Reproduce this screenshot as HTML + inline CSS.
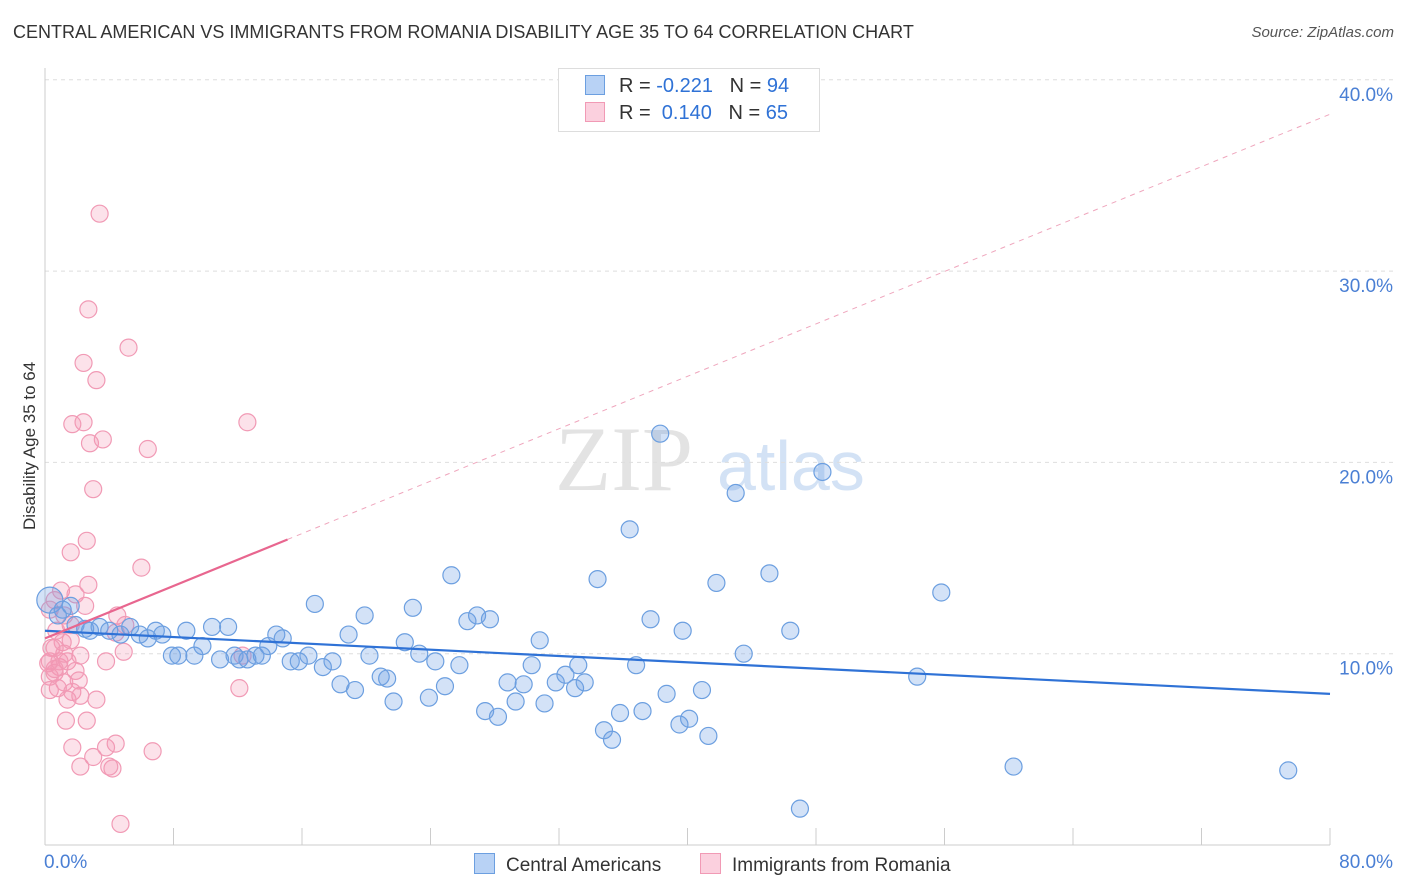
<!DOCTYPE html>
<html><head><meta charset="utf-8">
<style>
body{margin:0;background:#fff;font-family:"Liberation Sans",sans-serif;}
#wrap{position:relative;width:1406px;height:892px;overflow:hidden;}
.t{position:absolute;white-space:nowrap;}
</style></head>
<body>
<div id="wrap">
<div class="t" style="left:13px;top:22px;font-size:18px;color:#333;">CENTRAL AMERICAN VS IMMIGRANTS FROM ROMANIA DISABILITY AGE 35 TO 64 CORRELATION CHART</div>
<div class="t" style="right:12px;top:24px;font-size:15px;color:#555;font-style:italic;">Source: ZipAtlas.com</div>
<svg id="svg" width="1406" height="892" style="position:absolute;left:0;top:0"></svg>
</div>
<script>
const blueX=[0.3,1.1,1.6,0.8,1.9,2.5,2.8,3.4,4.0,4.7,5.3,5.9,6.4,6.9,7.3,7.9,8.3,8.8,9.3,9.8,10.4,10.9,11.4,11.8,12.1,12.6,13.1,13.5,13.9,14.4,14.8,15.3,15.8,16.4,16.8,17.3,17.9,18.4,18.9,19.3,19.9,20.2,20.9,21.3,21.7,22.4,22.9,23.3,23.9,24.3,24.9,25.3,25.8,26.3,26.9,27.4,27.7,28.2,28.8,29.3,29.8,30.3,30.8,31.1,31.8,32.4,33.0,33.2,33.6,34.4,34.8,35.3,35.8,36.4,36.8,37.2,37.7,38.3,38.7,39.5,39.7,40.1,40.9,41.3,41.8,43.0,43.5,45.1,46.4,47.0,48.4,54.3,55.8,60.3,77.4];
const blueY=[12.8,12.3,12.5,12.0,11.5,11.3,11.2,11.4,11.2,11.0,11.4,11.0,10.8,11.2,11.0,9.9,9.9,11.2,9.9,10.4,11.4,9.7,11.4,9.9,9.7,9.7,9.9,9.9,10.4,11.0,10.8,9.6,9.6,9.9,12.6,9.3,9.6,8.4,11.0,8.1,12.0,9.9,8.8,8.7,7.5,10.6,12.4,10.0,7.7,9.6,8.3,14.1,9.4,11.7,12.0,7.0,11.8,6.7,8.5,7.5,8.4,9.4,10.7,7.4,8.5,8.9,8.2,9.4,8.5,13.9,6.0,5.5,6.9,16.5,9.4,7.0,11.8,21.5,7.9,6.3,11.2,6.6,8.1,5.7,13.7,18.4,10.0,14.2,11.2,1.9,19.5,8.8,13.2,4.1,3.9];
const pinkX=[3.4,2.7,5.2,2.4,3.2,2.4,1.7,2.8,3.6,6.4,12.6,3.0,2.6,1.6,6.0,1.0,2.7,1.9,0.6,0.3,1.2,4.5,5.0,4.4,1.6,1.1,0.6,2.2,0.3,0.9,1.4,1.9,0.6,0.3,1.2,2.1,0.8,1.7,2.2,3.2,1.4,12.1,4.9,1.3,2.6,1.7,4.4,3.8,6.7,3.0,2.2,4.2,4.0,4.7,12.3,0.9,0.4,0.6,1.2,1.6,0.7,3.8,0.2,0.3,2.5];
const pinkY=[33.0,28.0,26.0,25.2,24.3,22.1,22.0,21.0,21.2,20.7,22.1,18.6,15.9,15.3,14.5,13.3,13.6,13.1,12.8,12.3,12.0,12.0,11.5,11.1,11.5,10.6,10.3,9.9,9.6,9.3,9.6,9.1,9.0,8.8,8.5,8.6,8.2,8.0,7.8,7.6,7.6,8.2,10.1,6.5,6.5,5.1,5.3,5.1,4.9,4.6,4.1,4.0,4.1,1.1,9.9,9.6,10.3,9.2,10.0,10.7,11.2,9.6,9.5,8.1,12.5];
const yTicks=[10,20,30,40];
const yTickLabels=["10.0%","20.0%","30.0%","40.0%"];
const xTicks=[0,8,16,24,32,40,48,56,64,72,80];
const blueTrend=[11.2,7.9], pinkTrend=[10.8,38.2], pinkSolidEnd=15.1;

const X0=45,X1=1330,Y0=845,PY=19.13;
const sx=v=>X0+(v/80)*(X1-X0), sy=v=>Y0-v*PY;
const svg=document.getElementById('svg');
const NS='http://www.w3.org/2000/svg';
function mk(tag,attrs,name){const e=document.createElementNS(NS,tag);for(const k in attrs)e.setAttribute(k,attrs[k]);


svg.appendChild(e);return e;}
// watermark
let w1=mk('text',{x:555,y:490,'font-size':92,'font-family':'Liberation Serif, serif',fill:'#e3e3e3'},'watermark-zip');w1.textContent='ZIP';
let w2=mk('text',{x:717,y:490,'font-size':70,'font-family':'Liberation Sans, sans-serif',fill:'#d3e2f5'},'watermark-atlas');w2.textContent='atlas';
yTicks.forEach((v,i)=>{
 mk('line',{x1:X0,x2:1393,y1:sy(v),y2:sy(v),stroke:'#dedede','stroke-dasharray':'4,4'},'gridline');
 const t=mk('text',{x:1393,y:sy(v)+21,'text-anchor':'end','font-size':19,fill:'#4a7fd4','font-family':'Liberation Sans, sans-serif'},'y-tick-label');t.textContent=yTickLabels[i];
});
mk('line',{x1:X0,x2:X0,y1:68,y2:Y0,stroke:'#ccc'},'y-axis');
mk('line',{x1:X0,x2:X1,y1:Y0,y2:Y0,stroke:'#ccc'},'x-axis');
xTicks.forEach(v=>mk('line',{x1:sx(v),x2:sx(v),y1:Y0,y2:Y0-17,stroke:'#ccc'},'x-tick'));
function dots(xs,ys,fill,stroke,name){xs.forEach((x,i)=>mk('circle',{cx:sx(x),cy:sy(ys[i]),r:(name==='blue-point'&&i===0)?13:8.5,fill:fill,stroke:stroke,'stroke-width':1.2},name));}
dots(pinkX,pinkY,'rgba(244,150,180,0.28)','#f19ab5','pink-point');
dots(blueX,blueY,'rgba(110,160,230,0.3)','#6c9fe0','blue-point');
mk('line',{x1:sx(0),y1:sy(blueTrend[0]),x2:sx(80),y2:sy(blueTrend[1]),stroke:'#2f72d6','stroke-width':2.2},'blue-trend-line');
const pk=v=>pinkTrend[0]+(pinkTrend[1]-pinkTrend[0])*v/80;
mk('line',{x1:sx(0),y1:sy(pk(0)),x2:sx(pinkSolidEnd),y2:sy(pk(pinkSolidEnd)),stroke:'#e8668f','stroke-width':2.2},'pink-trend-line');
mk('line',{x1:sx(pinkSolidEnd),y1:sy(pk(pinkSolidEnd)),x2:sx(80),y2:sy(pk(80)),stroke:'#efa6bd','stroke-width':1,'stroke-dasharray':'5,5'},'pink-trend-extension');
</script>
<div class="t" style="left:-45px;top:445px;font-size:17px;color:#333;transform:rotate(-90deg);width:150px;text-align:center;">Disability Age 35 to 64</div>
<div class="t" style="left:44px;top:852px;font-size:19px;color:#4a7fd4;">0.0%</div>
<div class="t" style="right:13px;top:852px;font-size:19px;color:#4a7fd4;">80.0%</div>
<div style="position:absolute;left:558px;top:68px;width:260px;height:62px;border:1px solid #ddd;background:#fff;font-size:20px;color:#333;">
 <div class="t" style="left:26px;top:6px;"><span style="display:inline-block;width:18px;height:18px;background:#b8d2f5;border:1px solid #6c9fe0;vertical-align:-3px;margin-right:14px"></span>R = <span style="color:#2f72d6">-0.221</span>&nbsp;&nbsp;&nbsp;N = <span style="color:#2f72d6">94</span></div>
 <div class="t" style="left:26px;top:33px;"><span style="display:inline-block;width:18px;height:18px;background:#fbd0de;border:1px solid #f19ab5;vertical-align:-3px;margin-right:14px"></span>R = &nbsp;<span style="color:#2f72d6">0.140</span>&nbsp;&nbsp;&nbsp;N = <span style="color:#2f72d6">65</span></div>
</div>
<div class="t" style="left:474px;top:853px;font-size:19px;color:#333;"><span style="display:inline-block;width:19px;height:19px;background:#b8d2f5;border:1px solid #6c9fe0;vertical-align:-3px;margin-right:11px"></span>Central Americans</div>
<div class="t" style="left:700px;top:853px;font-size:19px;color:#333;"><span style="display:inline-block;width:19px;height:19px;background:#fbd0de;border:1px solid #f19ab5;vertical-align:-3px;margin-right:11px"></span>Immigrants from Romania</div>
</body></html>
